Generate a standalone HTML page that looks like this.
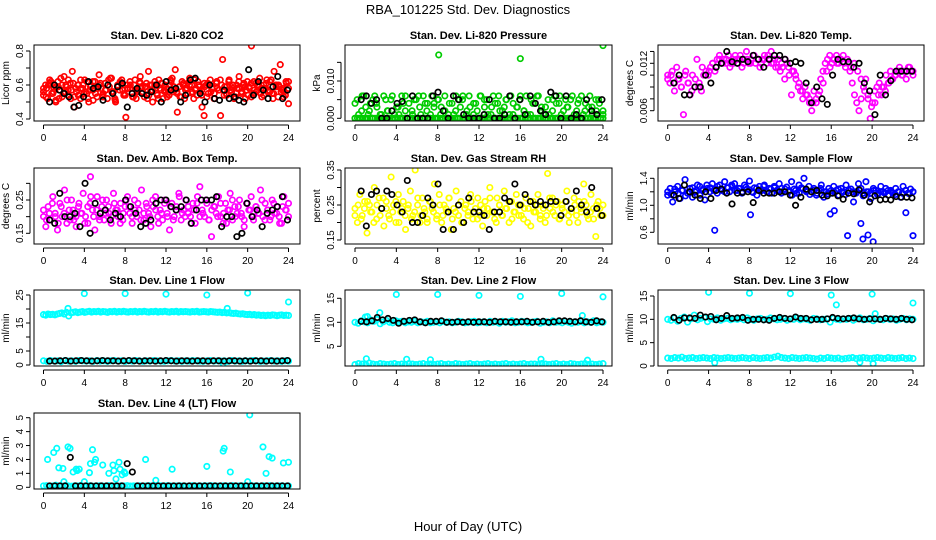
<!DOCTYPE html>
<html><head><meta charset="utf-8"><style>
body{margin:0;background:#fff}
svg{display:block;font-family:"Liberation Sans",Arial,sans-serif}
</style></head><body>
<svg id="chart" width="936" height="540" viewBox="0 0 936 540">
<text x="468" y="14" text-anchor="middle" font-size="13">RBA_101225  Std. Dev. Diagnostics</text>
<text x="468" y="531" text-anchor="middle" font-size="13">Hour of Day (UTC)</text>
</svg>
<script>
// ---- data ----
const hourTicks=[0,4,8,12,16,20,24];
const co2Main=[.56,.6,.52,.63,.55,.58,.5,.62,.57,.53,.65,.59,.54,.61,.68,.47,.56,.6,.52,.58,.63,.55,.5,.6,.57,.62,.53,.66,.58,.55,.61,.52,.59,.64,.56,.5,.6,.57,.63,.54,.41,.58,.62,.55,.6,.52,.57,.65,.59,.53,.61,.68,.56,.5,.6,.55,.63,.57,.52,.6,.58,.54,.62,.56,.69,.44,.59,.53,.61,.57,.55,.64,.6,.52,.58,.62,.56,.47,.42,.6,.55,.63,.58,.52,.61,.57,.42,.75,.59,.54,.62,.57,.6,.53,.58,.65,.56,.6,.52,.62,.58,.83,.55,.61,.57,.64,.53,.6,.58,.56,.62,.55,.68,.6,.53,.72,.58,.56,.61,.49];
const co2Main2=[.54,.58,.61,.55,.59,.52,.6,.56,.63,.57,.53,.6,.58,.55,.62,.57,.51,.59,.6,.54,.57,.63,.56,.52,.59,.61,.55,.58,.6,.53,.57,.62,.56,.59,.54,.6,.58,.52,.61,.57,.55,.63,.59,.56,.53,.6,.58,.62,.55,.57,.6,.54,.59,.61,.56,.52,.58,.63,.57,.55,.6,.58,.53,.62,.56,.59,.54,.61,.57,.6,.55,.58,.63,.56,.52,.6,.59,.57,.54,.62];
const co2Main3=[.58,.53,.6,.62,.56,.51,.59,.64,.55,.6,.57,.52,.61,.58,.54,.63,.6,.56,.52,.59,.62,.55,.58,.61,.53,.57,.6,.64,.56,.51,.59,.62,.57,.54,.6,.58,.53,.63,.56,.61,.55,.59,.52,.6,.57,.62,.54,.58,.61,.56,.53,.6,.64,.57,.55,.59,.62,.52,.58,.6,.56,.63,.54,.59,.57,.61,.53,.6,.58,.55,.62,.57,.6,.54,.59,.63,.56,.52,.6,.58,.55,.61,.57,.59,.53,.62,.56,.6,.58,.54,.61,.57,.63,.55,.59,.6,.56,.53,.62,.58];
const co2Black=[.5,.6,.57,.55,.53,.47,.48,.53,.62,.58,.59,.51,.6,.55,.59,.61,.47,.55,.58,.55,.54,.56,.6,.5,.62,.57,.58,.5,.54,.63,.64,.55,.5,.6,.52,.51,.57,.52,.53,.51,.5,.69,.54,.62,.57,.52,.59,.65,.52,.57];
const presMain=[0,.005,0,.002,.006,0,.001,.004,0,.006,.003,0,.001,0,.005,.002,0,.006,0,.003,.001,0,.004,.006,0,0,.002,.005,0,.006,.001,0,.004,.004,0,.006,.003,0,.005,.001,0,.002,0,.004,0,.001,.006,0,.003,.005,0,.002,.006,0,.001,.004,0,.006,0,.003,.005,0,.001,.006,0,.004,.002,0,.003,.005,0,.006,.001,0,.003,.005,0,.002,.006,0,.001,.004,0,.006,0,.003,.001,0,.005,0,.002,.006,0,.004,.001,0,.005,.003,0,.006,0,.002,.005,0,.001,.004,0,.006,.003,0,.002,.005,0,.001];
const presMain2=[.004,.001,.006,.003,.002,.005,.004,.001,.006,.002,.005,.001,.003,.006,.002,.004,.001,.005,.003,.006,.002,.001,.004,.005,.003,.006,.001,.004,.002,.005,.006,.001,.003,.004,.002,.006,.005,.001,.003,.004,.006,.002,.005,.001,.004,.003,.006,.002,.001,.005,.004,.006,.002,.003,.001,.005,.004,.006,.002,.003,.005,.001,.004,.006,.002,.003,.001,.005,.004,.002];
const presZero=[0,0,0,0,0,0,0,0,0,0,0,0,0,0,0,0,0,0,0,0,0,0,0,0,0,0,0,0,0,0,0,0,0,0,0,0,0,0,0,0,0,0,0,0,0,0,0,0,0,0,0,0,0,0,0,0,0,0,0,0,0,0,0,0,0,0,0,0,0,0,0,0,0,0,0,0,0,0,0,0,0,0,0,0,0,0,0,0,0,0,0,0,0,0,0,0,0,0,0,0];
const presOutHours=[8.1,16,24];
const presOutVals=[.017,.016,.0195];
const presBlack=[.005,.006,.004,.005,0,0,.002,.004,.0045,0,.006,0,0,0,.006,.007,.002,0,.006,.005,.001,0,0,0,.001,.005,0,0,.001,.006,0,.005,.001,.006,.004,.002,.001,.007,.006,0,.006,0,.001,0,.005,.002,.001,.005];
const tempMain=[.0105,.0095,.011,.0085,.0115,.01,.009,.0055,.011,.0095,.008,.0105,.009,.0125,.0095,.0085,.0105,.011,.0105,.0115,.012,.011,.0125,.013,.012,.0125,.012,.013,.012,.0125,.013,.012,.0125,.0115,.0125,.0135,.012,.0125,.013,.012,.0125,.0115,.0125,.013,.012,.0125,.0135,.012,.0115,.0125,.011,.0115,.01,.012,.0105,.008,.011,.01,.009,.0085,.0075,.009,.008,.007,.006,.0085,.007,.008,.01,.011,.012,.0125,.013,.012,.0125,.013,.012,.0125,.013,.0115,.012,.011,.0095,.008,.007,.006,.0075,.009,.01,.008,.005,.007,.0085,.009,.0095,.008,.009,.0105,.0095,.011,.01,.0105,.011,.0115,.0105,.011,.01,.0115,.011,.0105];
const tempMain2=[.01,.0105,.0095,.01,.009,.0105,.0095,.0085,.01,.009,.0115,.0105,.011,.012,.0115,.0125,.012,.0125,.0115,.012,.0125,.013,.012,.0125,.012,.013,.0125,.012,.0125,.013,.012,.0125,.0115,.012,.0125,.0115,.011,.0105,.0095,.0085,.008,.0075,.007,.0075,.0085,.0095,.011,.0115,.0125,.012,.0125,.012,.0125,.0115,.012,.011,.01,.0085,.0075,.0065,.007,.008,.009,.0085,.0095,.01,.0105,.011,.0105,.011,.0115,.011];
const tempBlack=[.0095,.0105,.008,.008,.009,.009,.0105,.0095,.0115,.012,.0135,.0122,.012,.0125,.0122,.013,.0125,.0115,.0125,.013,.013,.0125,.012,.0122,.012,.0095,.007,.009,.0075,.0068,.0105,.0125,.0122,.0122,.0115,.012,.0095,.0085,.0055,.0105,.008,.0098,.011,.011,.011,.011];
const ambMain=[.2,.17,.23,.19,.26,.21,.16,.24,.2,.28,.18,.22,.25,.19,.17,.23,.21,.27,.2,.18,.24,.22,.16,.26,.2,.23,.19,.25,.21,.18,.27,.22,.2,.24,.19,.23,.26,.21,.18,.25,.2,.22,.28,.19,.24,.21,.17,.23,.26,.2,.22,.19,.25,.21,.16,.24,.2,.23,.27,.19,.22,.25,.21,.2,.24,.18,.26,.29,.22,.2,.24,.19,.14,.23,.21,.26,.2,.18,.24,.22,.27,.19,.23,.21,.25,.2,.17,.24,.22,.26,.19,.23,.21,.28,.2,.24,.22,.19,.25,.21,.23,.2,.18,.26,.22,.24];
const ambMain2=[.22,.19,.21,.24,.2,.18,.23,.21,.25,.19,.22,.2,.24,.21,.18,.23,.26,.2,.22,.19,.25,.21,.23,.2,.24,.22,.18,.21,.25,.23,.2,.22,.24,.19,.21,.23,.2,.25,.22,.18,.21,.24,.2,.23,.19,.22,.26,.21,.2,.23,.18,.22,.24,.2,.21,.25,.19,.22,.23,.2,.24,.21,.18,.22,.25,.2,.23,.21,.19,.24,.22,.2,.23,.21,.25,.19,.22,.2,.24,.21,.18,.23,.22,.2];
const ambBlack=[.19,.18,.27,.2,.2,.21,.17,.3,.15,.24,.21,.22,.19,.21,.2,.25,.23,.21,.17,.18,.19,.24,.25,.25,.23,.22,.23,.25,.18,.22,.25,.25,.25,.26,.17,.2,.2,.14,.15,.24,.2,.22,.17,.21,.22,.23,.26,.19];
const rhMain=[.24,.2,.28,.22,.26,.17,.25,.23,.3,.21,.27,.24,.19,.26,.22,.33,.25,.2,.28,.23,.26,.18,.24,.29,.22,.35,.25,.2,.27,.23,.21,.26,.24,.31,.22,.28,.2,.25,.23,.27,.18,.24,.29,.22,.26,.2,.25,.23,.28,.21,.24,.27,.22,.19,.26,.24,.3,.23,.21,.27,.25,.22,.29,.24,.2,.26,.23,.28,.22,.25,.21,.27,.24,.19,.26,.23,.28,.22,.25,.2,.34,.24,.27,.22,.26,.21,.25,.23,.29,.2,.24,.27,.22,.26,.23,.31,.25,.21,.28,.24,.16,.26,.22,.25];
const rhMain2=[.22,.25,.21,.24,.26,.23,.2,.25,.22,.27,.24,.21,.23,.26,.2,.24,.22,.25,.21,.23,.27,.22,.24,.2,.26,.23,.21,.25,.22,.24,.27,.21,.23,.25,.2,.24,.22,.26,.23,.21,.25,.24,.22,.27,.23,.2,.25,.22,.24,.26,.21,.23,.25,.22,.24,.2,.26,.23,.25,.21,.24,.22,.27,.23,.25,.21,.24,.26,.22,.23,.25,.2,.24,.26,.22,.23,.21,.25,.24,.22];
const rhBlack=[.29,.19,.28,.29,.24,.29,.28,.25,.23,.32,.2,.2,.22,.27,.25,.31,.18,.23,.18,.25,.2,.27,.23,.23,.22,.18,.23,.23,.27,.26,.31,.25,.28,.26,.25,.26,.25,.26,.26,.22,.26,.24,.29,.25,.23,.3,.24,.22];
const flowMain=[1.15,1.25,1.05,1.2,1.28,1.1,1.22,1.38,1.18,1.25,1.12,1.2,1.3,1.15,1.22,1.08,1.25,1.2,1.32,1.24,1.18,1.3,1.22,1.35,1.26,1.2,1.28,1.32,1.22,1.25,1.18,1.3,1.24,1.36,1.2,1.26,1.15,1.28,1.22,1.3,1.2,1.25,1.18,1.28,1.22,1.32,1.25,1.2,1.27,1.22,1.35,1.24,1.18,1.3,1.26,1.4,1.22,1.28,1.2,1.25,1.15,1.22,1.3,1.12,1.2,1.25,1.18,1.28,1.22,1.15,1.25,1.2,1.3,1.18,1.24,1.05,1.2,1.32,1.25,1.18,1.35,1.2,1.1,1.25,1.22,1.18,1.28,1.2,1.25,1.15,1.22,1.18,1.25,1.2,1.12,1.28,1.22,1.18,1.24,1.2];
const flowMain2=[1.2,1.16,1.24,1.18,1.22,1.14,1.2,1.26,1.22,1.28,1.24,1.3,1.26,1.22,1.28,1.24,1.2,1.26,1.3,1.22,1.25,1.2,1.27,1.23,1.19,1.25,1.22,1.28,1.2,1.24,1.26,1.21,1.18,1.24,1.2,1.15,1.22,1.18,1.24,1.2,1.16,1.22,1.18,1.25,1.2,1.17,1.22,1.19,1.24,1.2,1.16,1.22,1.2,1.18,1.22,1.14,1.2,1.18,1.22,1.16,1.2,1.18,1.22,1.2,1.16,1.2,1.18,1.22,1.17,1.2];
const flowOutHours=[4.6,8.1,15.9,16.3,17.6,18.9,19.1,19.6,20.1,23.3,24];
const flowOutVals=[.63,.86,.87,.92,.55,.73,.5,.56,.46,.89,.55];
const flowBlack=[1.15,1.1,1.3,1.2,1.15,1.1,1.2,1.1,1.22,1.24,1.18,1.02,1.18,1.19,1.2,1.04,1.22,1.18,1.18,1.18,1.2,1.2,1.15,1.0,1.12,1.24,1.2,1.22,1.15,1.14,1.18,1.14,1.09,1.18,1.17,1.23,1.15,1.05,1.14,1.08,1.09,1.08,1.13,1.12,1.12,1.11];
const l1High=[18,17.8,18.2,18,18.1,17.9,18.2,18.4,18.6,18.2,18.8,17.5,18.6,18.8,19,18.7,18.9,19.1,18.8,19,19.2,18.9,19.1,19,19.2,18.9,19.1,19,18.8,19.1,19,19.2,18.9,19.1,19,19.2,19,18.9,19.1,19,19.2,18.9,19.1,19,19.2,19,18.9,19.1,19,19.2,18.9,19.1,19,19.2,19,18.9,19.1,19,19.2,18.9,19.1,19,19.1,19,18.9,19.1,19,19.2,18.9,19,19.1,19,18.9,19.1,19,18.9,18.8,18.9,18.7,18.8,18.6,18.7,18.5,18.4,18.5,18.3,18.2,18.3,18.1,18,18.1,17.9,18,17.8,17.9,17.7,17.8,17.6,17.8,17.7,17.9,17.8,17.6,17.8,17.9,17.7,17.8,17.7];
const l1Low=[1.5,1.3,1.6,1.4,1.5,1.2,1.6,1.4,1.5,1.3,1.6,1.5,1.4,1.5,1.3,1.6,1.4,1.5,1.3,1.5,1.6,1.4,1.5,1.3,1.5,1.4,1.6,1.5,1.3,1.5,1.4,1.6,1.5,1.4,1.3,1.5,1.6,1.4,1.5,1.3,1.5,1.4,1.6,1.5,1.4,1.3,1.5,1.6,1.4,1.5,1.4,1.5,1.3,1.6,1.4,1.5,1.3,1.5,1.4,1.6,1.5,1.3,1.4,1.5,1.6,1.4,1.5,1.3,1.5,1.4];
const l1OutHours=[4,8,12,16,20,24,2.4,18,17.6];
const l1OutVals=[25.5,25.5,25.3,25,25.7,22.5,20.2,20.2,0.5];
const l1Black=[1.4,1.4,1.5,1.6,1.4,1.5,1.6,1.5,1.4,1.5,1.6,1.5,1.5,1.4,1.5,1.6,1.5,1.4,1.5,1.5,1.4,1.5,1.6,1.5,1.4,1.5,1.5,1.4,1.5,1.5,1.4,1.5,1.5,1.4,1.5,1.5,1.4,1.5,1.4,1.5,1.5,1.4,1.5,1.4,1.5,1.6];
const l2High=[10,9.8,10.3,10.1,9.9,10.5,10.2,10.6,9.7,10.1,10.4,10,9.9,10.3,10.1,10.2,9.9,10.1,10,10.2,9.9,10.1,10,10.2,9.9,10,10.1,9.9,10.2,10,10.1,9.9,10,10.2,10.1,9.9,10,10.1,10.2,9.9,10,10.1,9.9,10.2,10,10.1,9.8,10.2,10,10.1,10.3,9.9,10,10.2,10.1,9.9,10,10.1,10.2,9.8,10,10.1,9.9,10.3,10,10.1,9.9,10.2,10,9.8,10.1,10,10.2,9.9,10.1,10,10.3,9.9,10.1,10];
const l2Low=[1.2,1.4,1.3,1.2,1.5,1.3,1.2,1.4,1.3,1.2,1.3,1.4,1.2,1.3,1.2,1.4,1.3,1.2,1.3,1.4,1.2,1.3,1.2,1.3,1.4,1.2,1.3,1.2,1.4,1.3,1.2,1.3,1.4,1.2,1.3,1.2,1.3,1.4,1.2,1.3,1.2,1.3,1.4,1.2,1.3,1.2,1.3,1.4,1.2,1.3,1.3,1.2,1.4,1.3,1.2,1.3,1.4,1.2,1.3,1.2,1.4,1.3,1.2,1.3,1.4,1.2,1.3,1.2,1.3,1.4];
const l2OutHours=[4,8,12,16,20,24,2.4,1.2,1.1,5,7.3,18,22.5,22,1];
const l2OutVals=[15.8,15.8,15.6,15.4,16,15.3,12,11.2,2.4,2.3,2.2,2.3,2.1,11.4,11.1];
const l2Black=[10.2,10.1,10.3,11,10.5,10.8,10.4,9.8,10.2,10.4,10.5,10.1,9.9,10.2,10.2,10.3,10,10,10.1,10,10.1,10,10.1,10.1,10,10.2,10.1,10.1,10,10.1,10.1,10.2,10,10.1,10.2,10,10.1,10.3,10.3,10.2,10.1,10.3,10.1,10,10.3,10.1];
const l3High=[10,9.8,10.3,9.6,10.2,10.5,9.4,10.1,10.9,9.9,10.2,10.4,9.5,10.1,10,10.3,9.8,10.1,10.2,9.9,10.1,10,10.2,9.9,10.3,10,9.8,10.1,10.2,9.9,10,10.3,10.1,9.9,10,10.2,9.8,10.1,10,10.3,9.9,10.1,10,9.8,10.2,10.1,9.9,10,10.1,9.4,10.2,10,9.9,10.1,10,10.2,9.8,10.1,10.3,9.9,10,10.2,9.7,10.1,10,9.9,10.2,10,10.1,9.8,10,10.2,9.9,10.1,10];
const l3Low=[1.7,1.6,1.8,1.7,1.9,1.6,1.7,1.8,1.6,1.7,1.8,1.7,1.6,1.8,1.7,1.6,1.7,1.8,1.7,1.6,1.7,1.8,1.7,1.6,1.8,1.7,1.6,1.7,1.8,1.7,1.9,2.1,1.8,1.7,1.6,1.8,1.7,1.6,1.7,1.8,1.7,1.6,1.5,1.7,1.6,1.8,1.7,1.6,1.7,1.5,1.6,1.7,1.8,1.6,1.7,1.8,1.7,1.6,1.7,1.8,1.7,1.6,1.8,1.7,1.6,1.7,1.8,1.6,1.7,1.6];
const l3OutHours=[4,8,12,16,20,24,16.5,20.3,4.6,18.8,20.1];
const l3OutVals=[15.8,15.6,15.5,15.2,15.4,13.5,13.1,11.2,0.7,0.8,0.5];
const l3Black=[10.4,9.8,10.3,10.3,10.2,10.9,10.5,10.6,9.9,10.2,10.8,10.2,10.3,10.4,9.8,10,10,9.9,9.8,10.2,10.4,10.2,10.1,10.5,10.2,10.2,9.9,10,10,10.1,10.4,10.2,10.1,10.2,10.3,10.1,10,10.1,10.1,10,10.2,10.1,10,10.2,10,9.9];
const l4Base=[.1,.12,.08,.1,.15,.1,.09,.12,.1,.08,.11,.1,.13,.09,.1,.12,.08,.1,.11,.1,.09,.12,.1,.1,.08,.11,.1,.12,.09,.1,.1,.11,.08,.1,.12,.1,.09,.1,.11,.1,.12,.1,.09,.1,.11,.1,.08,.1,.12,.1,.1,.09,.11,.1,.12,.1,.09,.1,.11,.1,.1,.12,.08,.1,.11,.1,.09,.12,.1,.1,.08,.11,.1,.12,.09,.1,.1,.11,.08,.1];
const l4OutHours=[.4,1,1.3,1.5,1.9,2,2.4,2.6,2.9,3.2,3.3,3.5,4,4.5,4.6,4.8,5,5.1,5.8,6.4,6.8,6.9,7.1,7.4,7.5,7.7,7.9,8,10,11,12.6,16,17.6,17.7,18.3,20,20.2,21.5,21.8,22.1,22.4,23.5,24];
const l4OutVals=[2,2.5,2.8,1.4,1.35,.4,2.9,2.8,1.1,1.3,1.2,1.3,.4,1.05,1.7,2.7,1.8,2,1.6,1,1.6,1.2,.6,1.8,1.3,.9,1.1,1,2,.5,1.3,1.5,2.6,2.8,1.1,.4,5.2,2.9,1,2.2,2.1,1.75,1.8];
const l4Black=[.1,.1,.1,.1,2.15,.1,.1,.1,.1,.1,.1,.1,.1,.1,.1,1.7,1.1,.1,.1,.1,.1,.1,.1,.1,.1,.1,.1,.1,.1,.1,.1,.1,.1,.1,.1,.1,.1,.1,.1,.1,.1,.1,.1,.1,.1,.1,.1];

// ---- layout (not data) ----
const colBox=[[34,300],[345,612],[658,924]];
const colX=[[43.5,288.5],[355,603],[667.7,913]];
const rowTop=[45,168,290,413];
const BOXH=76;
const NS="http://www.w3.org/2000/svg";
const svg=document.getElementById('chart');
function mk(tag,attrs,parent){const e=document.createElementNS(NS,tag);for(const k in attrs)e.setAttribute(k,attrs[k]);(parent||svg).appendChild(e);return e;}

const panels=[
 {name:'co2',title:'Stan. Dev. Li-820 CO2',ylab:'Licor ppm',r:0,c:0,y1:[.4,119],y2:[.8,51],ticks:[.4,.5,.6,.7,.8],labels:[[.4,'0.4'],[.6,'0.6'],[.8,'0.8']],color:'#ff0000',
  series:[co2Main,co2Main2,co2Main3],oh:[],ov:[],black:co2Black},
 {name:'pressure',title:'Stan. Dev. Li-820 Pressure',ylab:'kPa',r:0,c:1,y1:[0,118.3],y2:[.01,81],ticks:[0,.005,.01,.015],labels:[[0,'0.000'],[.01,'0.010']],color:'#00cc00',
  series:[presMain,presMain2,presZero],oh:presOutHours,ov:presOutVals,black:presBlack},
 {name:'temp',title:'Stan. Dev. Li-820 Temp.',ylab:'degrees C',r:0,c:2,y1:[.006,110.7],y2:[.012,63.3],ticks:[.006,.0075,.009,.0105,.012,.0135],labels:[[.006,'0.006'],[.012,'0.012']],color:'#ff00ff',
  series:[tempMain,tempMain2],oh:[],ov:[],black:tempBlack},
 {name:'amb-box-temp',title:'Stan. Dev. Amb. Box Temp.',ylab:'degrees C',r:1,c:0,y1:[.15,233.3],y2:[.25,200],ticks:[.15,.2,.25,.3],labels:[[.15,'0.15'],[.25,'0.25']],color:'#ff00ff',
  series:[ambMain,ambMain2],oh:[4.6],ov:[.32],black:ambBlack},
 {name:'gas-rh',title:'Stan. Dev. Gas Stream RH',ylab:'percent',r:1,c:1,y1:[.15,240],y2:[.35,170],ticks:[.15,.2,.25,.3,.35],labels:[[.15,'0.15'],[.25,'0.25'],[.35,'0.35']],color:'#ffff00',
  series:[rhMain,rhMain2],oh:[],ov:[],black:rhBlack},
 {name:'sample-flow',title:'Stan. Dev. Sample Flow',ylab:'ml/min',r:1,c:2,y1:[.6,232.3],y2:[1.4,178.3],ticks:[.6,.8,1,1.2,1.4],labels:[[.6,'0.6'],[1,'1.0'],[1.4,'1.4']],color:'#0000ff',
  series:[flowMain,flowMain2],oh:flowOutHours,ov:flowOutVals,black:flowBlack},
 {name:'line1-flow',title:'Stan. Dev. Line 1 Flow',ylab:'ml/min',r:2,c:0,y1:[0,365],y2:[25,295],ticks:[0,5,10,15,20,25],labels:[[0,'0'],[5,'5'],[15,'15'],[25,'25']],color:'#00ffff',
  series:[l1High,l1Low],oh:l1OutHours,ov:l1OutVals,black:l1Black},
 {name:'line2-flow',title:'Stan. Dev. Line 2 Flow',ylab:'ml/min',r:2,c:1,y1:[10,322.3],y2:[15,298.3],ticks:[5,10,15],labels:[[5,'5'],[10,'10'],[15,'15']],color:'#00ffff',
  series:[l2High,l2Low],oh:l2OutHours,ov:l2OutVals,black:l2Black},
 {name:'line3-flow',title:'Stan. Dev. Line 3 Flow',ylab:'ml/min',r:2,c:2,y1:[0,366],y2:[15,296],ticks:[0,5,10,15],labels:[[0,'0'],[5,'5'],[10,'10'],[15,'15']],color:'#00ffff',
  series:[l3High,l3Low],oh:l3OutHours,ov:l3OutVals,black:l3Black},
 {name:'line4-flow',title:'Stan. Dev. Line 4 (LT) Flow',ylab:'ml/min',r:3,c:0,y1:[0,487.3],y2:[5,417.7],ticks:[0,1,2,3,4,5],labels:[[0,'0'],[1,'1'],[2,'2'],[3,'3'],[4,'4'],[5,'5']],color:'#00ffff',
  series:[l4Base],oh:l4OutHours,ov:l4OutVals,black:l4Black}
];

panels.forEach(p=>{
  const g=mk('g',{});
  
  
  const [bx0,bx1]=colBox[p.c];const by0=rowTop[p.r],by1=by0+BOXH;
  const [x0,x24]=colX[p.c];
  const xs=h=>x0+(x24-x0)*h/24;
  const ys=v=>p.y1[1]+(v-p.y1[0])*(p.y2[1]-p.y1[1])/(p.y2[0]-p.y1[0]);
  const cx=(bx0+bx1)/2;
  const t=mk('text',{x:cx,y:by0-6,'text-anchor':'middle','font-size':11,'font-weight':'bold'},g);
  t.textContent=p.title;
  
  
  const clip=mk('clipPath',{id:'clip-'+p.name},g);
  mk('rect',{x:bx0,y:by0,width:bx1-bx0,height:BOXH},clip);
  const pts=mk('g',{'clip-path':'url(#clip-'+p.name+')',fill:'none','stroke-width':1.7},g);
  
  
  p.series.forEach(arr=>{
    arr.forEach((v,i)=>{
      const c=mk('circle',{cx:xs(i*24/(arr.length-1)),cy:ys(v),r:2.7,stroke:p.color},pts);
      
      
    });
  });
  p.oh.forEach((h,i)=>{
    const c=mk('circle',{cx:xs(h),cy:ys(p.ov[i]),r:2.7,stroke:p.color},pts);
    
    
  });
  p.black.forEach((v,i)=>{
    const c=mk('circle',{cx:xs(0.6+i*23.3/(p.black.length-1)),cy:ys(v),r:2.7,stroke:'#000'},pts);
    
    
  });
  const box=mk('rect',{x:bx0,y:by0,width:bx1-bx0,height:BOXH,fill:'none',stroke:'#000','stroke-width':1},g);
  
  
  const xa=mk('g',{stroke:'#000','stroke-width':1},g);
  
  
  mk('line',{x1:xs(0),x2:xs(24),y1:by1+4,y2:by1+4},xa);
  hourTicks.forEach(h=>{
    mk('line',{x1:xs(h),x2:xs(h),y1:by1+4,y2:by1+8},xa);
    const l=mk('text',{x:xs(h),y:by1+20,'text-anchor':'middle','font-size':10,stroke:'none',fill:'#000'},xa);
    l.textContent=h;
    
    
  });
  const ya=mk('g',{stroke:'#000','stroke-width':1},g);
  
  
  const tv=p.ticks.filter(v=>ys(v)>=by0-1&&ys(v)<=by1+1);
  mk('line',{x1:bx0-4,x2:bx0-4,y1:ys(tv[0]),y2:ys(tv[tv.length-1])},ya);
  tv.forEach(v=>mk('line',{x1:bx0-4,x2:bx0-8,y1:ys(v),y2:ys(v)},ya));
  p.labels.forEach(([v,s])=>{
    const l=mk('text',{x:0,y:0,transform:`translate(${bx0-11},${ys(v)}) rotate(-90)`,'text-anchor':'middle','font-size':10,stroke:'none',fill:'#000'},ya);
    l.textContent=s;
    
    
  });
  const yl=mk('text',{x:0,y:0,transform:`translate(${bx0-25},${(by0+by1)/2}) rotate(-90)`,'text-anchor':'middle','font-size':10},g);
  yl.textContent=p.ylab;
  
  
});
</script>
</body></html>
